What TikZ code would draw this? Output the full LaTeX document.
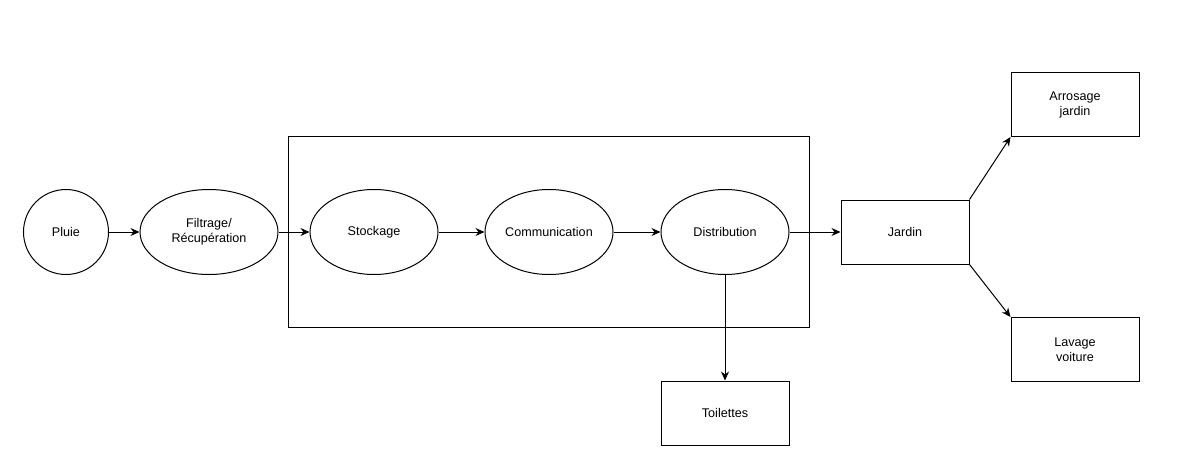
\documentclass[tikz,border=0pt]{standalone}
\usepackage{fontspec}
\setmainfont{Liberation Sans}
\usepackage{tikz}
\usetikzlibrary{shapes.geometric,arrows.meta}

\tikzset{
    etape/.style={draw, ellipse, line width=1pt, inner sep=0pt,
        minimum width=128pt, minimum height=85pt, align=center},
    usage/.style={draw, rectangle, line width=1pt, inner sep=0pt,
        minimum width=128pt, minimum height=64pt, align=center},
    fleche/.style={line width=1pt, -{Stealth[length=9pt, width=8pt]}}
}

\begin{document}
\begin{tikzpicture}[x=1pt, y=-1pt, font=\fontsize{12.6}{15}\selectfont]
        \useasboundingbox (0, 0) rectangle (1196, 471);

        \node[draw, line width=1pt, minimum width=521pt, minimum height=191pt, inner sep=0pt] (cadre) at (549, 232) {};

        \node[draw, circle, line width=1pt, minimum size=85pt, inner sep=0pt] (pluie) at (66, 232) {Pluie};
        \node[etape, minimum width=138pt] (filtrage) at (209, 232) {Filtrage/\\Récupération};
        \node[etape] (stockage) at (374, 232) {Stockage};
        \node[etape] (communication) at (549, 232) {Communication};
        \node[etape] (distribution) at (725, 232) {Distribution};

        \node[usage] (jardin) at (905, 232) {Jardin};
        \node[usage] (arrosage) at (1075, 104.5) {Arrosage\\jardin};
        \node[usage] (lavage) at (1075, 349.5) {Lavage\\voiture};
        \node[usage] (toilettes) at (725, 413) {Toilettes};

        \draw[fleche] (pluie) -- (filtrage);
        \draw[fleche] (filtrage) -- (stockage);
        \draw[fleche] (stockage) -- (communication);
        \draw[fleche] (communication) -- (distribution);
        \draw[fleche] (distribution) -- (jardin);
        \draw[fleche] (distribution.south) -- (toilettes.north);
        \draw[fleche] (jardin.north east) -- (arrosage.south west);
        \draw[fleche] (jardin.south east) -- (lavage.north west);
    \end{tikzpicture}
\end{document}
